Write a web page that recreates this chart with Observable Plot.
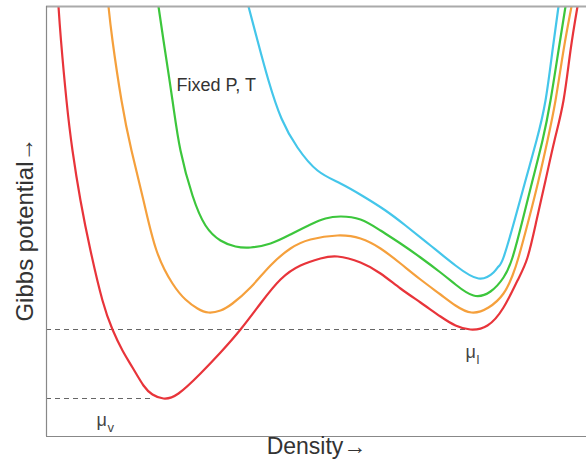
<!DOCTYPE html>
<html>
<head>
<meta charset="utf-8">
<script src="https://cdn.jsdelivr.net/npm/d3@7"></script>
<script src="https://cdn.jsdelivr.net/npm/@observablehq/plot@0.6"></script>
<style>
  html, body { margin: 0; padding: 0; background: #fff; }
  #chart { width: 586px; height: 464px; }
</style>
</head>
<body>
<div id="chart"></div>
<script>
// Curves: [density, Gibbs potential] (arbitrary units)
const redCurve = [[12,430],[14.5,396],[20,336],[26,286],[34,236],[44,186],[56,136],[66,107],[76,86],[86,69],[97,51],[106,42],[117,38],[132,43],[154,63],[174,84],[194,107],[214,133],[234,157],[254,171],[274,178],[291,180],[314,174],[334,163],[354,148],[374,134],[394,120],[409,111],[424,107],[441,111],[457,129],[471,156],[481,179],[490,216],[499,256],[508,296],[517,336],[524,386],[531,430]];
const orangeCurve = [[62,430],[66,396],[75,336],[85,286],[97,236],[110,186],[126,153],[139,137],[151,128],[162,124],[174,126],[186,133],[204,149],[224,171],[244,188],[264,197],[291,201],[314,198],[334,188],[354,173],[374,157],[394,142],[409,131],[425,124],[442,129],[457,143],[466,161],[472,179],[482,216],[492,256],[501,296],[509,336],[517,386],[525,430]];
const greenCurve = [[112,430],[117,396],[126,336],[134,286],[146,241],[159,211],[174,196],[189,190],[204,189],[224,193],[244,202],[264,212],[279,218],[294,220],[314,217],[334,206],[354,193],[374,179],[394,164],[409,152],[427,141],[444,145],[457,159],[466,179],[476,216],[486,256],[496,296],[504,336],[512,386],[519,430]];
const cyanCurve = [[202,430],[211,396],[222,356],[235,318],[251,289],[271,266],[294,253],[317,240],[339,226],[359,211],[384,191],[409,171],[432,158],[447,164],[452,170],[457,179],[468,216],[479,256],[490,296],[499,336],[506,386],[512,430]];

const seriesNames = ["T1", "T2", "T3", "T4"];
const seriesColors = ["#e8343a", "#f5a03c", "#3cc63c", "#44c6ea"];
const seriesData = [redCurve, orangeCurve, greenCurve, cyanCurve];

// Reference levels (chemical potentials)
const muLevels = [{x1: 0, x2: 420, y: 107}, {x1: 0, x2: 104, y: 38}];
const muLabels = [{x: 50, y: 16, main: "\u03bc", sub: "v"}, {x: 419, y: 84, main: "\u03bc", sub: "l"}];
const annotation = [{x: 130, y: 351, text: "Fixed P, T"}];

const xLabel = "Density\u2192";
const yLabel = "Gibbs potential\u2192";

const rows = [];
seriesData.forEach((pts, i) => pts.forEach(([x, y]) => rows.push({series: seriesNames[i], x, y})));

const font = "'Liberation Sans', Arial, Helvetica, sans-serif";

const chart = Plot.plot({
  width: 586,
  height: 464,
  marginLeft: 46,
  marginRight: 0,
  marginTop: 6,
  marginBottom: 28,
  style: {fontFamily: font, background: "#fff"},
  x: {domain: [0, 540], axis: null},
  y: {domain: [0, 430], axis: null},
  color: {domain: seriesNames, range: seriesColors},
  marks: [
    Plot.ruleY(muLevels, {x1: "x1", x2: "x2", y: "y", stroke: "#666", strokeWidth: 1, strokeDasharray: "5,4"}),
    Plot.line(rows, {x: "x", y: "y", z: "series", stroke: "series", strokeWidth: 2.2, curve: "natural", clip: true}),
    Plot.ruleY([430], {stroke: "#aaa", strokeWidth: 2}),
    Plot.ruleY([0], {stroke: "#888", strokeWidth: 1.2}),
    Plot.ruleX([0], {stroke: "#888", strokeWidth: 1.2}),
    Plot.text(annotation, {x: "x", y: "y", text: "text", textAnchor: "start", fontSize: 18, fill: "#333"}),
    Plot.text(muLabels, {x: "x", y: "y", text: "main", textAnchor: "start", fontSize: 18, fill: "#444"}),
    Plot.text(muLabels, {x: "x", y: "y", text: "sub", textAnchor: "start", dx: 11, dy: 7, fontSize: 13, fill: "#444"}),
    Plot.text([xLabel], {frameAnchor: "bottom", textAnchor: "middle", dy: 17, fontSize: 23, fill: "#333"}),
    Plot.text([yLabel], {frameAnchor: "left", textAnchor: "middle", lineAnchor: "middle", rotate: -90, dx: -21, dy: 8, fontSize: 24, fill: "#333"})
  ]
});
document.getElementById("chart").appendChild(chart);
</script>
</body>
</html>
